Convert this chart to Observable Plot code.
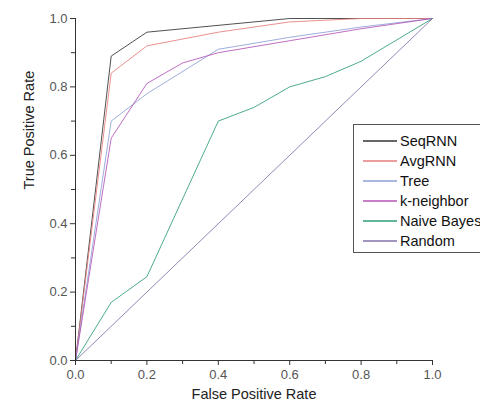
<!DOCTYPE html>
<html>
<head>
<meta charset="utf-8">
<script src="https://cdn.jsdelivr.net/npm/d3@7"></script>
<script src="https://cdn.jsdelivr.net/npm/@observablehq/plot@0.6"></script>
<style>
  html, body { margin: 0; padding: 0; background: #fff; }
  #chart { position: relative; width: 480px; height: 408px; overflow: hidden; }
</style>
</head>
<body>
<div id="chart"></div>
<script>
const seriesNames = ["SeqRNN", "AvgRNN", "Tree", "k-neighbor", "Naive Bayes", "Random"];
const seriesColors = ["#333333", "#e67c7c", "#8ea0d4", "#b455b8", "#2f9b7c", "#8372aa"];

const seqFpr = [0, 0.1, 0.2, 0.6, 1.0];
const seqTpr = [0, 0.89, 0.96, 1.0, 1.0];
const avgFpr = [0, 0.1, 0.2, 0.4, 0.6, 0.8, 1.0];
const avgTpr = [0, 0.84, 0.92, 0.96, 0.99, 1.0, 1.0];
const treeFpr = [0, 0.1, 0.2, 0.4, 0.6, 0.8, 1.0];
const treeTpr = [0, 0.70, 0.78, 0.91, 0.945, 0.975, 1.0];
const knnFpr = [0, 0.1, 0.2, 0.3, 0.4, 0.6, 0.8, 1.0];
const knnTpr = [0, 0.65, 0.81, 0.87, 0.90, 0.935, 0.97, 1.0];
const nbFpr = [0, 0.1, 0.2, 0.4, 0.5, 0.6, 0.7, 0.8, 1.0];
const nbTpr = [0, 0.17, 0.245, 0.70, 0.74, 0.80, 0.83, 0.875, 1.0];
const randFpr = [0, 1.0];
const randTpr = [0, 1.0];

const xTicks = [0, 0.2, 0.4, 0.6, 0.8, 1.0];
const yTicks = [0, 0.2, 0.4, 0.6, 0.8, 1.0];
const minorTicks = [0.1, 0.3, 0.5, 0.7, 0.9];
const xTitle = "False Positive Rate";
const yTitle = "True Positive Rate";

const fprs = [seqFpr, avgFpr, treeFpr, knnFpr, nbFpr, randFpr];
const tprs = [seqTpr, avgTpr, treeTpr, knnTpr, nbTpr, randTpr];
const rows = [];
seriesNames.forEach((name, i) => {
  fprs[i].forEach((f, j) => rows.push({series: name, fpr: f, tpr: tprs[i][j]}));
});

const font = "'Liberation Sans', Arial, sans-serif";

const plot = Plot.plot({
  width: 480,
  height: 408,
  marginLeft: 75,
  marginRight: 48,
  marginTop: 18,
  marginBottom: 48,
  style: {fontFamily: font, fontSize: "12px", color: "#333", background: "#fff"},
  x: {domain: [0, 1]},
  y: {domain: [0, 1]},
  color: {domain: seriesNames, range: seriesColors},
  marks: [
    Plot.line(rows, {x: "fpr", y: "tpr", z: "series", stroke: "series", strokeWidth: 1, strokeOpacity: 0.85}),
    Plot.ruleX([0], {stroke: "#333"}),
    Plot.ruleY([0], {stroke: "#333"}),
    Plot.axisX(xTicks, {tickSize: 5, tickFormat: d3.format(".1f"), fill: "#555", fontSize: 13, tickPadding: 4, label: null}),
    Plot.axisX(minorTicks, {tickSize: 4, tickFormat: null, text: null, label: null}),
    Plot.axisY(yTicks, {tickSize: 5, tickFormat: d3.format(".1f"), fill: "#555", fontSize: 13, tickPadding: 3, label: null}),
    Plot.axisY(minorTicks, {tickSize: 4, tickFormat: null, text: null, label: null}),
    Plot.text([xTitle], {frameAnchor: "bottom", dy: 38, fontSize: 14.5, fill: "#222", text: d => d}),
    Plot.text([yTitle], {frameAnchor: "left", dx: -46, rotate: -90, fontSize: 14.5, fill: "#222", text: d => d})
  ]
});

document.getElementById("chart").appendChild(plot);

// Legend inside the plot, drawn into the same SVG
const svg = d3.select(plot);
const lg = svg.append("g").attr("font-family", font).attr("font-size", 14.5).attr("text-anchor", "start");
lg.append("rect").attr("x", 353.5).attr("y", 124.5).attr("width", 140).attr("height", 128)
  .attr("fill", "#fff").attr("stroke", "#555").attr("stroke-width", 1);
seriesNames.forEach((name, i) => {
  const yy = 141 + i * 20;
  lg.append("line").attr("x1", 363).attr("x2", 397).attr("y1", yy).attr("y2", yy)
    .attr("stroke", seriesColors[i]).attr("stroke-width", 1.3);
  lg.append("text").attr("x", 400).attr("y", yy).attr("dy", "0.35em").attr("fill", "#111").text(name);
});
</script>
</body>
</html>
